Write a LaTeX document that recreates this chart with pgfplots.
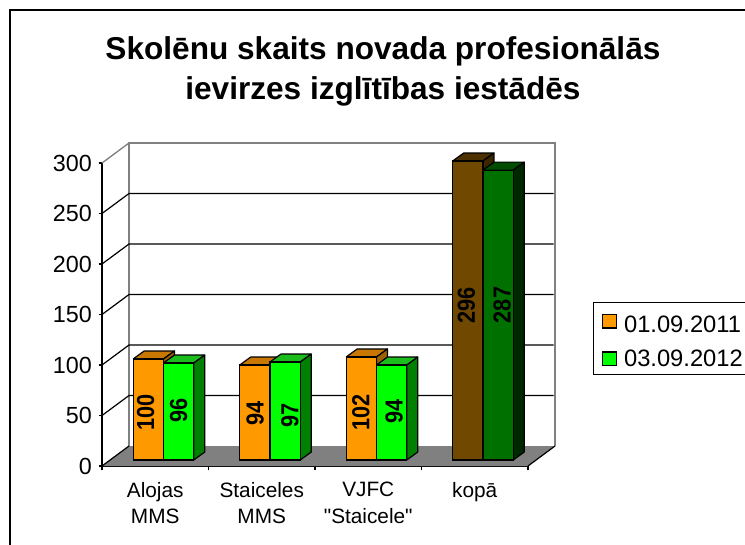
\documentclass[border=0pt]{standalone}
\usepackage{fontspec}
\setmainfont{Liberation Sans}
\newfontfamily\qf{Liberation Sans}
\usepackage{pgfplots}
\pgfplotsset{compat=1.18}
\definecolor{cOr}{HTML}{FF9900}\definecolor{cOrT}{HTML}{C87800}\definecolor{cOrS}{HTML}{9C6000}
\definecolor{cGr}{HTML}{00FF00}\definecolor{cGrT}{HTML}{1CBC1C}\definecolor{cGrS}{HTML}{008000}
\definecolor{cBr}{HTML}{704800}\definecolor{cBrT}{HTML}{4C3000}\definecolor{cBrS}{HTML}{3C2600}
\definecolor{cDg}{HTML}{007000}\definecolor{cDgT}{HTML}{004C00}\definecolor{cDgS}{HTML}{002800}
\definecolor{cWall}{HTML}{808080}
% left edge of bar, value, top colour, side colour
\newcommand{\barfaces}[4]{%
  \pgfmathsetmacro\xl{#1}\pgfmathsetmacro\xr{#1+0.2845}%
  \pgfmathsetmacro\xlb{#1+0.1033}\pgfmathsetmacro\xrb{#1+0.2845+0.1033}%
  \pgfmathsetmacro\yt{#2}\pgfmathsetmacro\ytb{#2+7.92}%
  \addplot[forget plot,fill=#3,draw=black,line width=0.9pt,line join=round] coordinates {(\xl,\yt)(\xr,\yt)(\xrb,\ytb)(\xlb,\ytb)(\xl,\yt)};
  \addplot[forget plot,fill=#4,draw=black,line width=0.9pt,line join=round] coordinates {(\xr,0)(\xrb,7.92)(\xrb,\ytb)(\xr,\yt)(\xr,0)};
}
\begin{document}
\begin{tikzpicture}
\useasboundingbox (0,0) rectangle (558.75pt,408pt);
\fill[white] (0,0) rectangle (558.75pt,408pt);
\draw[line width=1.1pt,line cap=rect] (7.5pt,0)--(7.5pt,400.5pt)--(558.75pt,400.5pt);
\node[font=\bfseries\fontsize{23.7}{26}\selectfont,anchor=base,inner sep=0pt] at (287.2pt,363.4pt) {Skolēnu skaits novada profesionālās};
\node[font=\bfseries\fontsize{23.7}{26}\selectfont,anchor=base,inner sep=0pt] at (287.2pt,333.4pt) {ievirzes izglītības iestādēs};
\begin{axis}[
  at={(76.5pt,58.5pt)},anchor=south west,scale only axis,
  width=319.5pt,height=227.25pt,
  xmin=0,xmax=4,ymin=0,ymax=300,clip=false,
  axis lines=left,axis line style={-,black,line width=1pt},
  ytick={0,50,100,150,200,250,300},
  xtick={0.5,1.5,2.5,3.5},
  xticklabels={{Alojas\\MMS},{Staiceles\\MMS},{VJFC\\{\qf"Staicele"}},{kopā}},
  minor xtick={0,1,2,3,4},
  major x tick style={draw=none},
  minor x tick style={black,line width=0.9pt},
  minor tick length=3.2pt,
  major tick length=2.6pt,
  y tick style={black,line width=0.9pt},
  tick align=outside,
  /pgf/number format/assume math mode=true,
  yticklabel style={font=\fontsize{17.5}{20}\selectfont,xshift=-1.5pt},
  xticklabel style={font=\fontsize{15.6}{20}\selectfont,align=center,anchor=north,yshift=-6pt},
]
% floor
\addplot[fill=cWall,draw=none] coordinates {(0,0)(4,0)(4.2535,19.8)(0.2535,19.8)(0,0)};
% back wall and side edges
\addplot[cWall,line width=1pt] coordinates {(0.2535,19.8)(0.2535,319.8)(4.2535,319.8)(4.2535,19.8)};
\addplot[cWall,line width=1pt] coordinates {(0,300)(0.2535,319.8)};
% grid lines
\addplot[black,line width=0.9pt] coordinates {(0,50)(0.2535,69.8)(4.24,69.8)};
\addplot[black,line width=0.9pt] coordinates {(0,100)(0.2535,119.8)(4.24,119.8)};
\addplot[black,line width=0.9pt] coordinates {(0,150)(0.2535,169.8)(4.24,169.8)};
\addplot[black,line width=0.9pt] coordinates {(0,200)(0.2535,219.8)(4.24,219.8)};
\addplot[black,line width=0.9pt] coordinates {(0,250)(0.2535,269.8)(4.24,269.8)};
% floor edges
\addplot[black,line width=0.9pt] coordinates {(0,0)(0.2535,19.8)};
\addplot[black,line width=0.9pt] coordinates {(4,0)(4.2535,19.8)};
\end{axis}
\begin{axis}[
  at={(82.65pt,63pt)},anchor=south west,scale only axis,
  width=319.5pt,height=227.25pt,
  xmin=0.5,xmax=4.5,ymin=0,ymax=300,clip=false,
  axis lines=none,
  legend style={at={(1.1333,0.5215)},anchor=north west,draw=black,line width=0.8pt,
    font=\fontsize{17.8}{20}\selectfont,cells={anchor=west},
    inner xsep=6.5pt,inner ysep=2.5pt,row sep=7.6pt,column sep=3.5pt},
  legend image code/.code={\draw[#1,line width=0.9pt] (0pt,-5pt) rectangle (10pt,5.2pt);},
]
\barfaces{0.7155}{100}{cOrT}{cOrS}
\barfaces{1.7155}{94}{cOrT}{cOrS}
\barfaces{2.7155}{102}{cOrT}{cOrS}
\addplot[ybar,bar width=22.7pt,bar shift=-11.35pt,fill=cOr,draw=black,line width=0.9pt] coordinates {(1,100)(2,94)(3,102)};
\addlegendentry{\rule{0pt}{17.8pt}01.09.2011}
\barfaces{3.7155}{296}{cBrT}{cBrS}
\addplot[forget plot,ybar,bar width=22.7pt,bar shift=-11.35pt,fill=cBr,draw=black,line width=0.9pt] coordinates {(4,296)};
\barfaces{1}{96}{cGrT}{cGrS}
\barfaces{2}{97}{cGrT}{cGrS}
\barfaces{3}{94}{cGrT}{cGrS}
\addplot[ybar,bar width=22.7pt,bar shift=11.35pt,fill=cGr,draw=black,line width=0.9pt] coordinates {(1,96)(2,97)(3,94)};
\addlegendentry{03.09.2012}
\barfaces{4}{287}{cDgT}{cDgS}
\addplot[forget plot,ybar,bar width=22.7pt,bar shift=11.35pt,fill=cDg,draw=black,line width=0.9pt] coordinates {(4,287)};
% data labels
\addplot[forget plot,draw=none,mark=none,nodes near coords={\scalebox{0.88}[1]{\pgfplotspointmeta}},point meta=explicit symbolic,
  nodes near coords style={rotate=90,anchor=center,inner sep=0pt,font=\bfseries\fontsize{18.5}{20}\selectfont,text=black}]
  table[meta=lab] {
x y lab
0.832 47.5 100
1.143 49.5 96
1.862 46.5 94
2.186 44.5 97
2.853 47.5 102
3.166 48.2 94
3.844 152.8 296
4.18 153.5 287
};
\end{axis}
\end{tikzpicture}
\end{document}
